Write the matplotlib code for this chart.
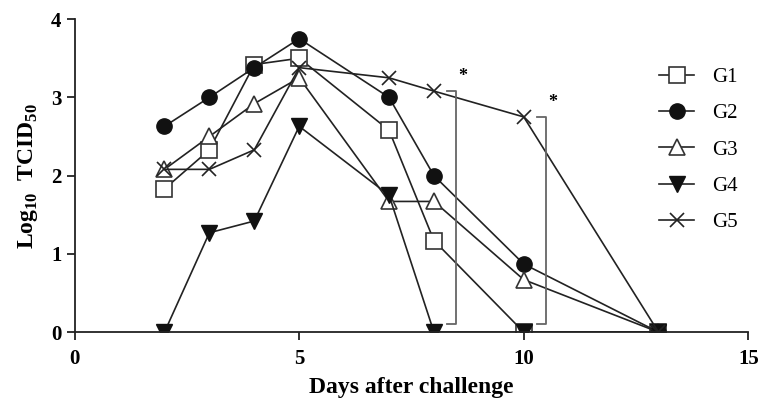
import numpy as np
import matplotlib
matplotlib.use("Agg")
import matplotlib.pyplot as plt

plt.rcParams['font.family'] = ['Liberation Serif', 'DejaVu Serif']
plt.rcParams['mathtext.fontset'] = 'custom'
plt.rcParams['mathtext.rm'] = 'Liberation Serif:bold'
plt.rcParams['mathtext.bf'] = 'Liberation Serif:bold'

# days after challenge and log10 TCID50 per group
days = [2, 3, 4, 5, 7, 8, 10, 13]
g1 = [1.83, 2.33, 3.42, 3.50, 2.58, 1.17, 0.0, 0.0]
g2 = [2.63, 3.00, 3.38, 3.75, 3.00, 2.00, 0.87, 0.0]
g3 = [2.08, 2.50, 2.92, 3.25, 1.67, 1.67, 0.67, 0.0]
g4 = [0.0, 1.27, 1.42, 2.63, 1.75, 0.0, 0.0, 0.0]
g5 = [2.08, 2.08, 2.33, 3.38, 3.25, 3.08, 2.75, 0.0]

# significance brackets: x position, top value
bracket_x = [8.5, 10.5]
bracket_top = [3.08, 2.75]

fig = plt.figure(figsize=(7.62, 4.07), dpi=100)
ax = fig.add_axes([0.098, 0.184, 0.884, 0.769])

ax.plot(days, g1, color="#222222", lw=1.2, marker="s", ms=11, mfc="white",
        mec="#333333", mew=1.2, label="G1")
ax.plot(days, g2, color="#222222", lw=1.2, marker="o", ms=11, mfc="#111111",
        mec="#111111", label="G2")
ax.plot(days, g3, color="#222222", lw=1.2, marker="^", ms=12, mfc="white",
        mec="#333333", mew=1.2, label="G3")
ax.plot(days, g4, color="#222222", lw=1.2, marker="v", ms=12, mfc="#111111",
        mec="#111111", label="G4")
ax.plot(days, g5, color="#222222", lw=1.2, marker="x", ms=10, mec="#222222",
        mew=1.2, label="G5")

for bx, bt in zip(bracket_x, bracket_top):
    ax.plot([bx - 0.2, bx, bx, bx - 0.2], [0.1, 0.1, bt, bt],
            color="#666666", lw=1.3, clip_on=False)
    ax.text(bx + 0.05, bt + 0.08, "*", fontsize=13, fontweight="bold",
            ha="left", va="bottom")

ax.set_xlim(0, 15)
ax.set_ylim(0, 4)
ax.set_xticks([0, 5, 10, 15])
ax.set_yticks([0, 1, 2, 3, 4])
ax.spines["top"].set_visible(False)
ax.spines["right"].set_visible(False)
for s in ("left", "bottom"):
    ax.spines[s].set_linewidth(1.3)
    ax.spines[s].set_color("#222222")
ax.tick_params(length=6, width=1.3, labelsize=15, color="#222222")
ax.tick_params(axis="x", pad=6)
for lab in ax.get_xticklabels() + ax.get_yticklabels():
    lab.set_fontweight("bold")

ax.set_xlabel("Days after challenge", fontsize=17, fontweight="bold", labelpad=6)
ax.set_ylabel(r"Log$_{10}$  TCID$_{50}$", fontsize=17, fontweight="bold", labelpad=8)

leg = ax.legend(loc="upper right", bbox_to_anchor=(1.012, 0.905), frameon=False,
                fontsize=15, handlelength=1.7, labelspacing=0.8,
                handletextpad=0.85)

fig.savefig("out.png", dpi=100)
